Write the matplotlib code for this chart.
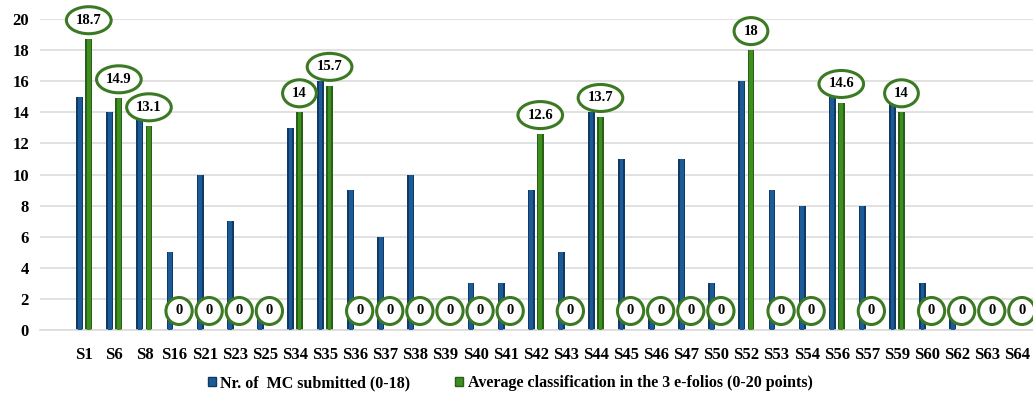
import matplotlib
matplotlib.use("Agg")
import matplotlib.pyplot as plt
from matplotlib.patches import Patch, Ellipse
from matplotlib.transforms import IdentityTransform
import numpy as np

students = ["S1", "S6", "S8", "S16", "S21", "S23", "S25", "S34", "S35", "S36",
            "S37", "S38", "S39", "S40", "S41", "S42", "S43", "S44", "S45", "S46",
            "S47", "S50", "S52", "S53", "S54", "S56", "S57", "S59", "S60", "S62",
            "S63", "S64"]
mc_submitted = [15, 14, 14, 5, 10, 7, 1, 13, 16, 9,
                6, 10, 0, 3, 3, 9, 5, 14, 11, 1,
                11, 3, 16, 9, 8, 15, 8, 15, 3, 1,
                0, 0]
avg_efolio = [18.7, 14.9, 13.1, 0, 0, 0, 0, 14, 15.7, 0,
              0, 0, 0, 0, 0, 12.6, 0, 13.7, 0, 0,
              0, 0, 18, 0, 0, 14.6, 0, 14, 0, 0,
              0, 0]
series_names = ["Nr. of  MC submitted (0-18)",
                "Average classification in the 3 e-folios (0-20 points)"]
y_ticks = list(range(0, 21, 2))

plt.rcParams["font.family"] = ["Liberation Serif", "DejaVu Serif"]
plt.rcParams["font.weight"] = "bold"

BLUE = "#1d5b96"
BLUE_DARK = "#0f3a66"
GREEN = "#3f8f1f"
GREEN_DARK = "#28601a"
RING = "#3b7a22"

W, H = 1033, 394
fig = plt.figure(figsize=(W / 100, H / 100), dpi=100)
ax = fig.add_axes([40 / W, 64 / H, 1 - 40 / W, (330 - 19) / H])

n = len(students)
x = np.arange(n)
bw = 0.23
off = 0.15

# bars with darker flanks and a lighter core for a bevelled look
ax.bar(x - off, mc_submitted, bw, color=BLUE_DARK, zorder=2)
ax.bar(x - off, mc_submitted, bw * 0.55, color=BLUE, zorder=3)
ax.bar(x + off, avg_efolio, bw, color=GREEN_DARK, zorder=2)
ax.bar(x + off, avg_efolio, bw * 0.55, color=GREEN, zorder=3)

ax.set_xlim(-1.47, n - 1 + 0.52)
ax.set_ylim(0, 20)
ax.set_yticks(y_ticks)
ax.set_xticks(x)
ax.set_xticklabels(students, fontsize=12, fontweight="bold")
ax.tick_params(axis="y", labelsize=12, length=0, pad=8)
ax.tick_params(axis="x", length=0, pad=12)
for lab in ax.get_yticklabels():
    lab.set_fontweight("bold")

ax.yaxis.grid(True, color="#d9d9d9", lw=1.1, zorder=0)
ax.set_axisbelow(True)
for s in ["top", "right", "left"]:
    ax.spines[s].set_visible(False)
ax.spines["bottom"].set_color("#d9d9d9")
ax.spines["bottom"].set_linewidth(1.1)

# value labels inside green rings above the second series
renderer = fig.canvas.get_renderer()
for xi, v in zip(x, avg_efolio):
    px, py = ax.transData.transform((xi + off, v))
    cy = py + 19
    t = ax.text(px, cy, f"{v:g}", transform=IdentityTransform(), ha="center",
                va="center", fontsize=10.5, fontweight="bold", color="black",
                zorder=7, clip_on=False)
    tw = t.get_window_extent(renderer).width
    ring = Ellipse((px, cy), tw + 19, 27, transform=IdentityTransform(),
                   facecolor="white", edgecolor=RING, lw=2.2, zorder=6,
                   clip_on=False)
    ax.add_artist(ring)

handles = [Patch(facecolor=BLUE, edgecolor=BLUE_DARK, label=series_names[0]),
           Patch(facecolor=GREEN, edgecolor=GREEN_DARK, label=series_names[1])]
fig.legend(handles=handles, loc="center", bbox_to_anchor=(0.494, 0.028), ncol=2,
           frameon=False, handlelength=0.5, handleheight=0.5,
           handletextpad=0.3, columnspacing=2.8,
           prop={"weight": "bold", "size": 11.5})

fig.savefig("out.png", dpi=100)
